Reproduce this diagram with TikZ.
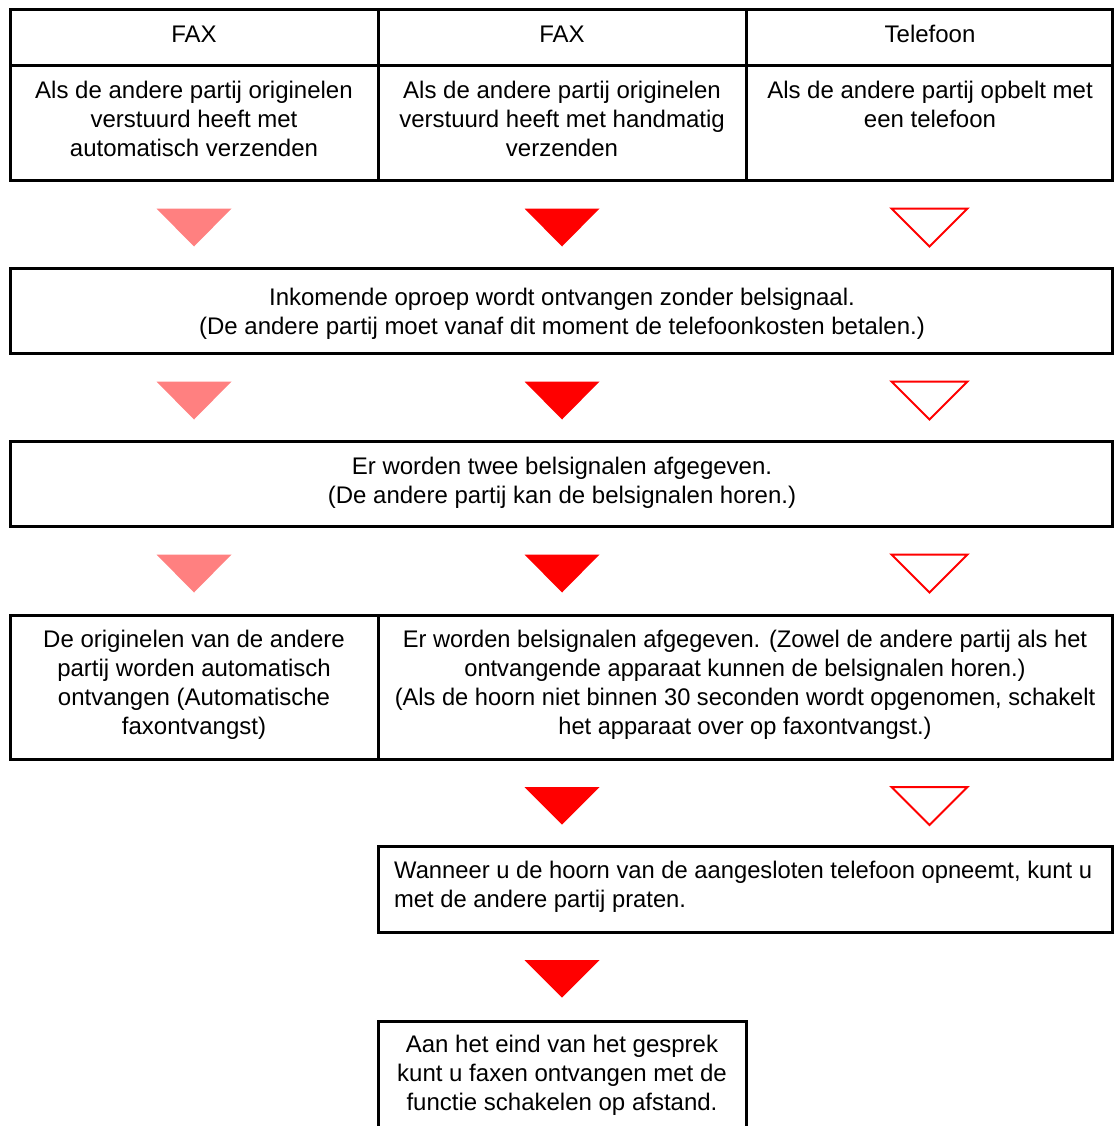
\documentclass[tikz,border=0pt]{standalone}
\usepackage{fontspec}
\setmainfont{Liberation Sans}
\definecolor{pinkc}{HTML}{FF8080}
\definecolor{redc}{HTML}{FF0000}
\newcommand{\fl}{\rule{0pt}{20pt}}
\begin{document}
\begin{tikzpicture}[x=1pt,y=-1pt,
  boxline/.style={draw=black,line width=3pt},
  txt/.style={font=\fontsize{24}{29}\selectfont,inner sep=0pt,align=center,anchor=north},
  txtl/.style={font=\fontsize{24}{29}\selectfont,inner sep=0pt,align=left,anchor=north west},
  tripink/.style={fill=pinkc},
  trired/.style={fill=redc},
  triopen/.style={draw=redc,line width=2pt,fill=white}]
\useasboundingbox[fill=white] (0,0) rectangle (1118,1126);

% top table
\draw[boxline] (10,10) rectangle (1112.5,181);
\draw[boxline] (10,66) -- (1112.5,66);
\draw[boxline] (378.5,10) -- (378.5,181);
\draw[boxline] (746.5,10) -- (746.5,181);

\node[txt] (h1) at (194,22.5) {\fl FAX};
\node[txt] (h2) at (562,22.5) {\fl FAX};
\node[txt] (h3) at (930,22.5) {\fl Telefoon};

\node[txt] (c1) at (194,78.5) {\fl Als de andere partij originelen\\verstuurd heeft met\\automatisch verzenden};
\node[txt] (c2) at (562,78.5) {\fl Als de andere partij originelen\\verstuurd heeft met handmatig\\verzenden};
\node[txt] (c3) at (930,78.5) {\fl Als de andere partij opbelt met\\een telefoon};

% triangles row 1
\fill[tripink,shift={(194,208.5)}] (-37.5,0) -- (37.5,0) -- (0,38) -- cycle;
\fill[trired,shift={(562,208.5)}] (-37.5,0) -- (37.5,0) -- (0,38) -- cycle;
\draw[triopen,shift={(929.5,208.5)}] (-38,0) -- (38,0) -- (0,38) -- cycle;

% box 2
\draw[boxline] (10,268.5) rectangle (1112.5,353.5);
\node[txt] (b2) at (562,285.5) {\fl Inkomende oproep wordt ontvangen zonder belsignaal.\\(De andere partij moet vanaf dit moment de telefoonkosten betalen.)};

% triangles row 2
\fill[tripink,shift={(194,381.5)}] (-37.5,0) -- (37.5,0) -- (0,38) -- cycle;
\fill[trired,shift={(562,381.5)}] (-37.5,0) -- (37.5,0) -- (0,38) -- cycle;
\draw[triopen,shift={(929.5,381.5)}] (-38,0) -- (38,0) -- (0,38) -- cycle;

% box 3
\draw[boxline] (10,441.5) rectangle (1112.5,526.5);
\node[txt] (b3) at (562,454.5) {\fl Er worden twee belsignalen afgegeven.\\(De andere partij kan de belsignalen horen.)};

% triangles row 3
\fill[tripink,shift={(194,554.5)}] (-37.5,0) -- (37.5,0) -- (0,38) -- cycle;
\fill[trired,shift={(562,554.5)}] (-37.5,0) -- (37.5,0) -- (0,38) -- cycle;
\draw[triopen,shift={(929.5,554.5)}] (-38,0) -- (38,0) -- (0,38) -- cycle;

% box 4
\draw[boxline] (10,615) rectangle (1112.5,759);
\draw[boxline] (378.5,615) -- (378.5,759);
\node[txt] (b4l) at (194,627) {\fl De originelen van de andere\\partij worden automatisch\\ontvangen (Automatische\\faxontvangst)};
\node[txt,font=\fontsize{24}{29}\selectfont\addfontfeature{FakeStretch=0.985}] (b4r) at (745,627) {\fl Er worden belsignalen afgegeven. (Zowel de andere partij als het\\ontvangende apparaat kunnen de belsignalen horen.)\\(Als de hoorn niet binnen 30 seconden wordt opgenomen, schakelt\\het apparaat over op faxontvangst.)};

% triangles row 4
\fill[trired,shift={(562,787)}] (-37.5,0) -- (37.5,0) -- (0,37.5) -- cycle;
\draw[triopen,shift={(929.5,787)}] (-38,0) -- (38,0) -- (0,38) -- cycle;

% box 5
\draw[boxline] (378.5,846.5) rectangle (1112.5,932);
\node[txtl,font=\fontsize{24}{29}\selectfont\addfontfeature{FakeStretch=0.99}] (b5) at (394,858.5) {\fl Wanneer u de hoorn van de aangesloten telefoon opneemt, kunt u\\met de andere partij praten.};

% triangle row 5
\fill[trired,shift={(562,960)}] (-37.5,0) -- (37.5,0) -- (0,37.5) -- cycle;

% box 6 (open at the bottom edge)
\draw[boxline] (378.5,1140) -- (378.5,1021) -- (746.5,1021) -- (746.5,1140);
\node[txt] (b6) at (562,1032) {\fl Aan het eind van het gesprek\\kunt u faxen ontvangen met de\\functie schakelen op afstand.};
\end{tikzpicture}
\end{document}
